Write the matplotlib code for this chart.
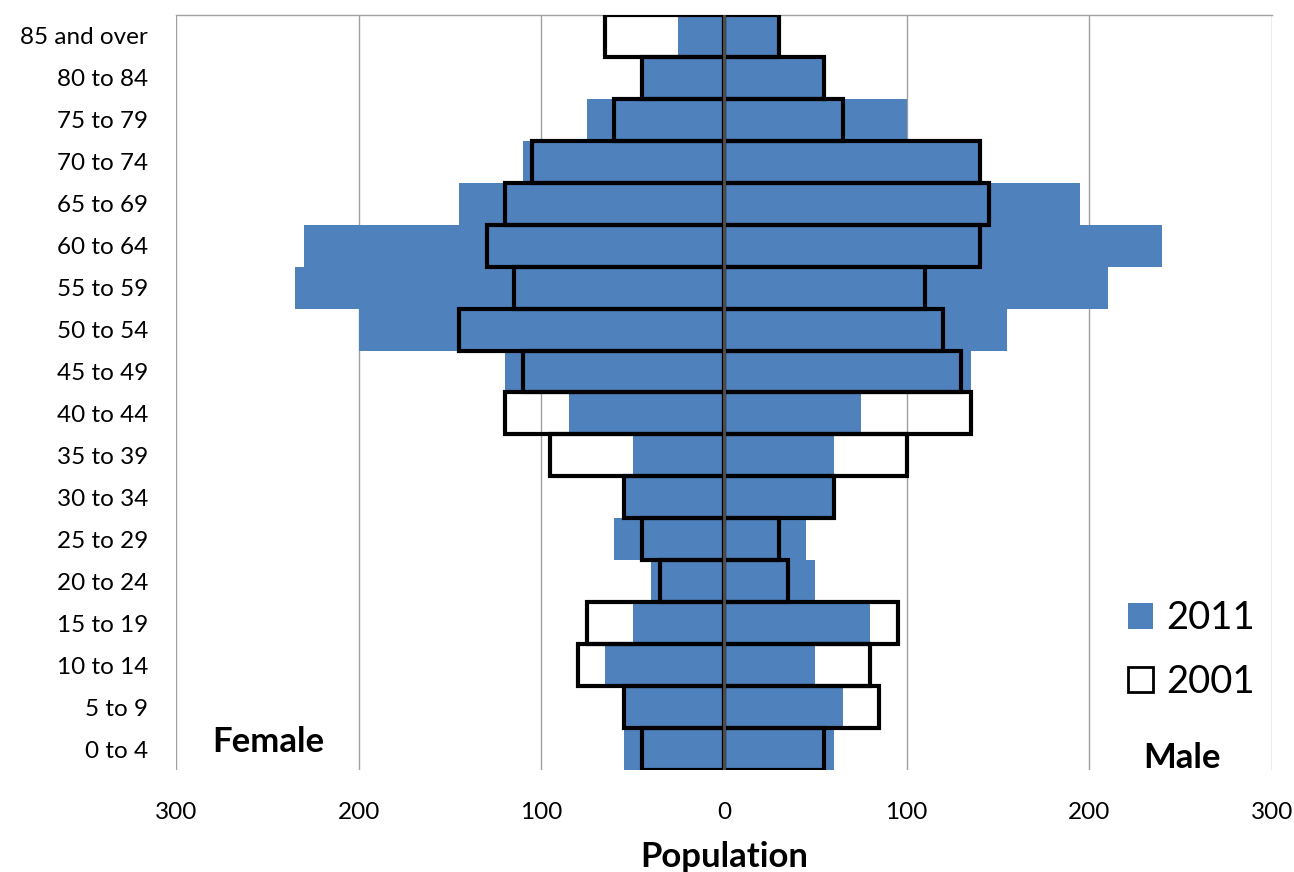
import matplotlib
matplotlib.use("Agg")
import matplotlib.pyplot as plt
from matplotlib.patches import Patch
import numpy as np

age_groups = ["0 to 4", "5 to 9", "10 to 14", "15 to 19", "20 to 24", "25 to 29",
              "30 to 34", "35 to 39", "40 to 44", "45 to 49", "50 to 54", "55 to 59",
              "60 to 64", "65 to 69", "70 to 74", "75 to 79", "80 to 84", "85 and over"]
female_2011 = [55, 55, 65, 50, 40, 60, 55, 50, 85, 120, 200, 235, 230, 145, 110, 75, 45, 25]
male_2011 = [60, 65, 50, 80, 50, 45, 60, 60, 75, 135, 155, 210, 240, 195, 140, 100, 55, 30]
female_2001 = [45, 55, 80, 75, 35, 45, 55, 95, 120, 110, 145, 115, 130, 120, 105, 60, 45, 65]
male_2001 = [55, 85, 80, 95, 35, 30, 60, 100, 135, 130, 120, 110, 140, 145, 140, 65, 55, 30]
x_ticks = [-300, -200, -100, 0, 100, 200, 300]

plt.rcParams['font.family'] = ['Lato', 'DejaVu Sans']

blue = '#4F81BD'
fig = plt.figure(figsize=(12.94, 8.72), dpi=100)
ax = fig.add_axes([176/1294, 1-770/872, (1272-176)/1294, (770-15)/872])

y = np.arange(len(age_groups))
ax.barh(y, [-v for v in female_2011], height=1.0, color=blue, zorder=2)
ax.barh(y, male_2011, height=1.0, color=blue, zorder=2)
ax.barh(y, [-v for v in female_2001], height=1.0, facecolor='none', edgecolor='black', linewidth=3, zorder=3)
ax.barh(y, male_2001, height=1.0, facecolor='none', edgecolor='black', linewidth=3, zorder=3)

ax.set_xlim(-300, 300)
ax.set_ylim(-0.5, len(age_groups) - 0.5)
ax.set_xticks(x_ticks)
ax.set_xticklabels([str(abs(t)) for t in x_ticks], fontsize=17.5)
ax.set_yticks(y)
ax.set_yticklabels(age_groups, fontsize=17.5)
ax.tick_params(length=0)
ax.tick_params(axis='y', pad=20)
ax.tick_params(axis='x', pad=23)

for t in x_ticks:
    if t != 0:
        ax.axvline(t, color='#a0a0a0', linewidth=1, zorder=1)
ax.axvline(0, color='#505050', linewidth=2, zorder=4)

for s in ['left', 'right', 'bottom']:
    ax.spines[s].set_visible(False)
ax.spines['top'].set_color('#a0a0a0')
ax.spines['top'].set_linewidth(1)

ax.set_xlabel('Population', fontsize=25, fontweight='bold', labelpad=13)

fig.text(212/1294, 1-742/872, 'Female', fontsize=25, fontweight='bold', va='center')
fig.text(1143/1294, 1-758/872, 'Male', fontsize=25, fontweight='bold', va='center')

handles = [Patch(facecolor=blue, edgecolor='none', label='2011'),
           Patch(facecolor='white', edgecolor='black', linewidth=2, label='2001')]
leg = fig.legend(handles=handles, loc='upper left', bbox_to_anchor=(1094/1294, 1-566/872),
                 frameon=False, fontsize=27.5, handlelength=0.65, handleheight=0.65,
                 handletextpad=0.35, labelspacing=0.72)

fig.savefig('out.png', dpi=100)
